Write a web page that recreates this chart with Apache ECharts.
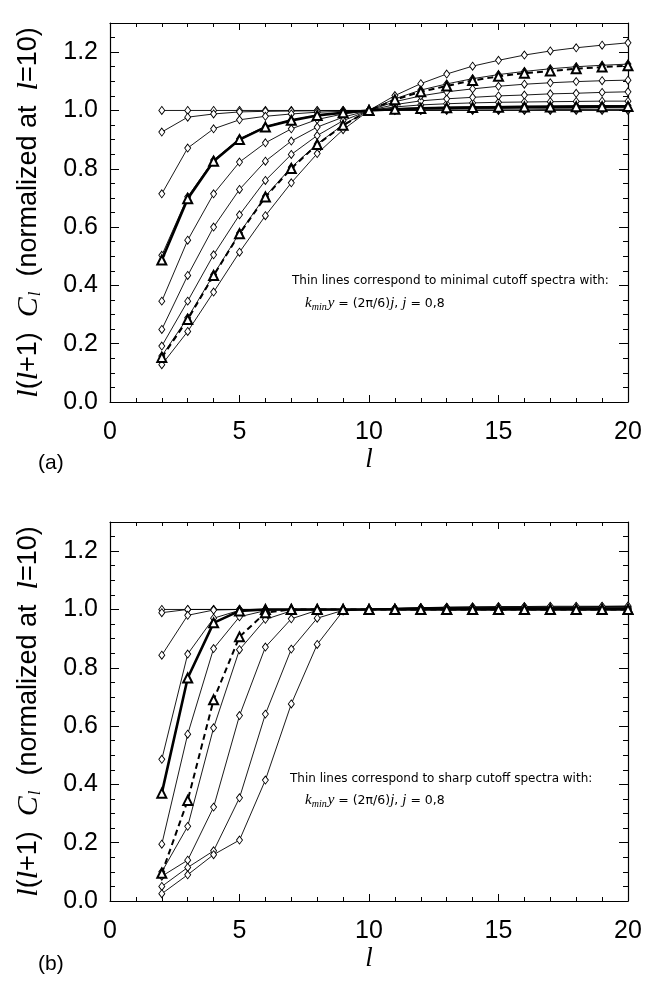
<!DOCTYPE html>
<html>
<head>
<meta charset="utf-8">
<script src="https://cdn.jsdelivr.net/npm/echarts@6/dist/echarts.min.js"></script>
<style>html,body{margin:0;padding:0;background:#fff}#chart{width:672px;height:983px}</style>
</head>
<body>
<div id="chart"></div>
<script>
// multipole l values
const ells = [2,3,4,5,6,7,8,9,10,11,12,13,14,15,16,17,18,19,20];
const xTicks = [0,5,10,15,20];
const yTicks = [0.0,0.2,0.4,0.6,0.8,1.0,1.2];

// (a) minimal cutoff spectra, thin lines j = 0..8
const aThin0 = [1,1,1,1,1,1,1,1,1,1,1,1,1,1,1,1,1,1,1];
const aThin1 = [0.926,0.977,0.988,0.995,0.997,0.998,0.999,1.0,1.0,1.001,1.001,1.002,1.002,1.002,1.002,1.003,1.003,1.003,1.003];
const aThin2 = [0.714,0.871,0.937,0.968,0.980,0.988,0.994,0.997,1.0,1.003,1.005,1.006,1.007,1.007,1.008,1.008,1.008,1.009,1.009];
const aThin3 = [0.503,0.704,0.830,0.903,0.945,0.967,0.984,0.993,1.0,1.006,1.009,1.011,1.013,1.014,1.015,1.016,1.016,1.017,1.017];
const aThin4 = [0.346,0.555,0.714,0.823,0.889,0.937,0.969,0.988,1.0,1.012,1.019,1.023,1.026,1.028,1.029,1.030,1.031,1.032,1.032];
const aThin5 = [0.249,0.434,0.600,0.729,0.826,0.895,0.943,0.977,1.0,1.020,1.033,1.040,1.045,1.050,1.053,1.057,1.059,1.062,1.064];
const aThin6 = [0.192,0.346,0.505,0.642,0.760,0.849,0.914,0.965,1.0,1.030,1.050,1.064,1.074,1.083,1.090,1.095,1.099,1.102,1.104];
const aThin7 = [0.158,0.289,0.437,0.580,0.706,0.805,0.885,0.951,1.0,1.040,1.070,1.091,1.109,1.123,1.134,1.143,1.150,1.155,1.159];
const aThin8 = [0.128,0.242,0.377,0.514,0.639,0.752,0.852,0.934,1.0,1.051,1.092,1.125,1.152,1.172,1.190,1.204,1.215,1.224,1.232];
const aThick = [0.487,0.697,0.826,0.900,0.943,0.966,0.983,0.992,1.0,1.004,1.007,1.009,1.010,1.011,1.012,1.012,1.013,1.013,1.014];
const aDashed = [0.153,0.283,0.434,0.577,0.703,0.801,0.883,0.949,1.0,1.037,1.064,1.084,1.103,1.117,1.128,1.135,1.143,1.149,1.153];

// (b) sharp cutoff spectra, thin lines j = 0..8
const bThin0 = [1,1,1,1,1,1,1,1,1,1,1,1,1,1,1,1,1,1,1];
const bThin1 = [0.989,1.0,1.0,1.0,1.0,1.0,1.0,1.0,1.0,1.001,1.001,1.001,1.001,1.001,1.001,1.001,1.001,1.001,1.001];
const bThin2 = [0.843,0.980,0.998,1.0,1.0,1.0,1.0,1.0,1.0,1.001,1.002,1.002,1.002,1.002,1.002,1.002,1.002,1.002,1.002];
const bThin3 = [0.486,0.847,0.970,0.997,1.0,1.0,1.0,1.0,1.0,1.002,1.003,1.003,1.003,1.003,1.003,1.003,1.003,1.003,1.003];
const bThin4 = [0.195,0.572,0.866,0.975,0.996,1.0,1.0,1.0,1.0,1.002,1.003,1.004,1.004,1.004,1.004,1.004,1.004,1.004,1.004];
const bThin5 = [0.100,0.256,0.594,0.862,0.966,0.995,1.0,1.0,1.0,1.003,1.004,1.005,1.005,1.005,1.006,1.006,1.006,1.006,1.006];
const bThin6 = [0.085,0.140,0.322,0.636,0.871,0.968,0.997,1.0,1.0,1.003,1.005,1.006,1.006,1.007,1.007,1.007,1.007,1.008,1.008];
const bThin7 = [0.050,0.115,0.172,0.354,0.641,0.864,0.970,0.997,1.0,1.004,1.006,1.007,1.008,1.008,1.009,1.009,1.009,1.010,1.010];
const bThin8 = [0.025,0.090,0.159,0.209,0.415,0.676,0.880,0.995,1.0,1.004,1.006,1.008,1.009,1.010,1.010,1.011,1.011,1.011,1.012];
const bThick = [0.370,0.765,0.954,0.995,1.0,1.0,1.0,1.0,1.0,1.0,1.0,1.0,1.0,1.0,1.0,1.0,1.0,1.0,1.0];
const bDashed = [0.095,0.345,0.690,0.906,0.989,1.0,1.0,1.0,1.0,1.0,1.0,1.0,1.0,1.0,1.0,1.0,1.0,1.0,1.0];

const aThinList = [aThin0,aThin1,aThin2,aThin3,aThin4,aThin5,aThin6,aThin7,aThin8];
const bThinList = [bThin0,bThin1,bThin2,bThin3,bThin4,bThin5,bThin6,bThin7,bThin8];

const pairs = arr => ells.map((l,i) => [l, arr[i]]);

function thinSeries(arr, g) {
  return {
    type:'line', xAxisIndex:g*2, yAxisIndex:g*2, data:pairs(arr),
    symbol:'diamond', symbolSize:[6,8], showSymbol:true,
    lineStyle:{color:'#000', width:0.9},
    itemStyle:{color:'#fff', borderColor:'#000', borderWidth:0.9},
    z:2, silent:true
  };
}
function thickSeries(arr, g, dashed) {
  return {
    type:'line', xAxisIndex:g*2, yAxisIndex:g*2, data:pairs(arr),
    symbol:'triangle', symbolSize:9,
    lineStyle:{color:'#000', width: dashed ? 2 : 2.6, type: dashed ? [6,4] : 'solid'},
    itemStyle:{color:'#fff', borderColor:'#000', borderWidth:2},
    z:3, silent:true
  };
}

const tickFont = 'Liberation Sans';
function xAxes(g) {
  const common = {
    type:'value', gridIndex:g, min:0, max:20, interval:5,
    axisLine:{show:true, onZero:false, lineStyle:{color:'#000', width:1.2}},
    axisTick:{show:true, inside:true, length:7, lineStyle:{color:'#000', width:1}},
    minorTick:{show:true, splitNumber:5, length:4, lineStyle:{color:'#000', width:1}},
    splitLine:{show:false}
  };
  return [
    Object.assign({}, common, {
      position:'bottom',
      axisLabel:{show:true, fontSize:25, color:'#000', fontFamily:tickFont, margin:18,
        formatter: v => xTicks.includes(v) ? String(v) : ''},
      name:'l', nameLocation:'middle', nameGap:44,
      nameTextStyle:{fontFamily:'Liberation Serif', fontStyle:'italic', fontSize:27, color:'#000'}
    }),
    Object.assign({}, common, {position:'top', axisLabel:{show:false}})
  ];
}
function yAxes(g) {
  const common = {
    type:'value', gridIndex:g, min:0, max:1.3, interval:0.2,
    axisLine:{show:true, onZero:false, lineStyle:{color:'#000', width:1.2}},
    axisTick:{show:true, inside:true, length:9, lineStyle:{color:'#000', width:1}},
    minorTick:{show:true, splitNumber:4, length:5, lineStyle:{color:'#000', width:1}},
    splitLine:{show:false}
  };
  return [
    Object.assign({}, common, {
      position:'left',
      axisLabel:{show:true, fontSize:25, color:'#000', fontFamily:tickFont, margin:12, showMaxLabel:false,
        formatter: v => {
          const hit = yTicks.find(t => Math.abs(t - v) < 1e-6);
          return hit === undefined ? '' : hit.toFixed(1);
        }},
      name:'{i|l}{n|(}{i|l}{n|+1)  }{i|C}{s|l}{n|  (normalized at  }{i|l}{n|=10)}',
      nameLocation:'middle', nameGap:66, nameRotate:90,
      nameTextStyle:{
        color:'#000',
        rich:{
          i:{fontFamily:'Liberation Serif', fontStyle:'italic', fontSize:30, color:'#000'},
          n:{fontFamily:tickFont, fontSize:27, color:'#000'},
          s:{fontFamily:'Liberation Serif', fontStyle:'italic', fontSize:17, color:'#000', verticalAlign:'bottom', padding:[12,0,0,1]}
        }
      }
    }),
    Object.assign({}, common, {position:'right', axisLabel:{show:false}})
  ];
}

const series = [];
aThinList.forEach(a => series.push(thinSeries(a, 0)));
series.push(thickSeries(aThick, 0, false));
series.push(thickSeries(aDashed, 0, true));
bThinList.forEach(a => series.push(thinSeries(a, 1)));
series.push(thickSeries(bThick, 1, false));
series.push(thickSeries(bDashed, 1, true));

const noteFont = '12px "DejaVu Sans"';
const richNote = {
  i:{font:'italic 15px "Liberation Serif"', fill:'#000'},
  s:{font:'italic 10px "Liberation Serif"', fill:'#000', verticalAlign:'bottom', padding:[7,1,0,0]},
  n:{font:'12.5px "DejaVu Sans"', fill:'#000'}
};
const line2 = '{i|k}{s|min}{i|y}{n| = (2π/6)}{i|j}{n|, }{i|j}{n| = 0,8}';

const option = {
  animation:false,
  backgroundColor:'#fff',
  grid:[
    {left:110, top:23, width:518, height:379},
    {left:110, top:522, width:518, height:379}
  ],
  xAxis:[...xAxes(0), ...xAxes(1)],
  yAxis:[...yAxes(0), ...yAxes(1)],
  series:series,
  graphic:[
    {type:'text', left:292, top:275, style:{text:'Thin lines correspond to minimal cutoff spectra with:', font:noteFont, fill:'#000'}},
    {type:'text', left:305, top:296, style:{text:line2, rich:richNote, font:noteFont, fill:'#000'}},
    {type:'text', left:290, top:773, style:{text:'Thin lines correspond to sharp cutoff spectra with:', font:noteFont, fill:'#000'}},
    {type:'text', left:305, top:793, style:{text:line2, rich:richNote, font:noteFont, fill:'#000'}},
    {type:'text', left:38, top:453, style:{text:'(a)', font:'21px "Liberation Sans"', fill:'#000'}},
    {type:'text', left:38, top:954, style:{text:'(b)', font:'21px "Liberation Sans"', fill:'#000'}}
  ]
};

const chart = echarts.init(document.getElementById('chart'), null, {renderer:'canvas'});
chart.setOption(option);
</script>
</body>
</html>
